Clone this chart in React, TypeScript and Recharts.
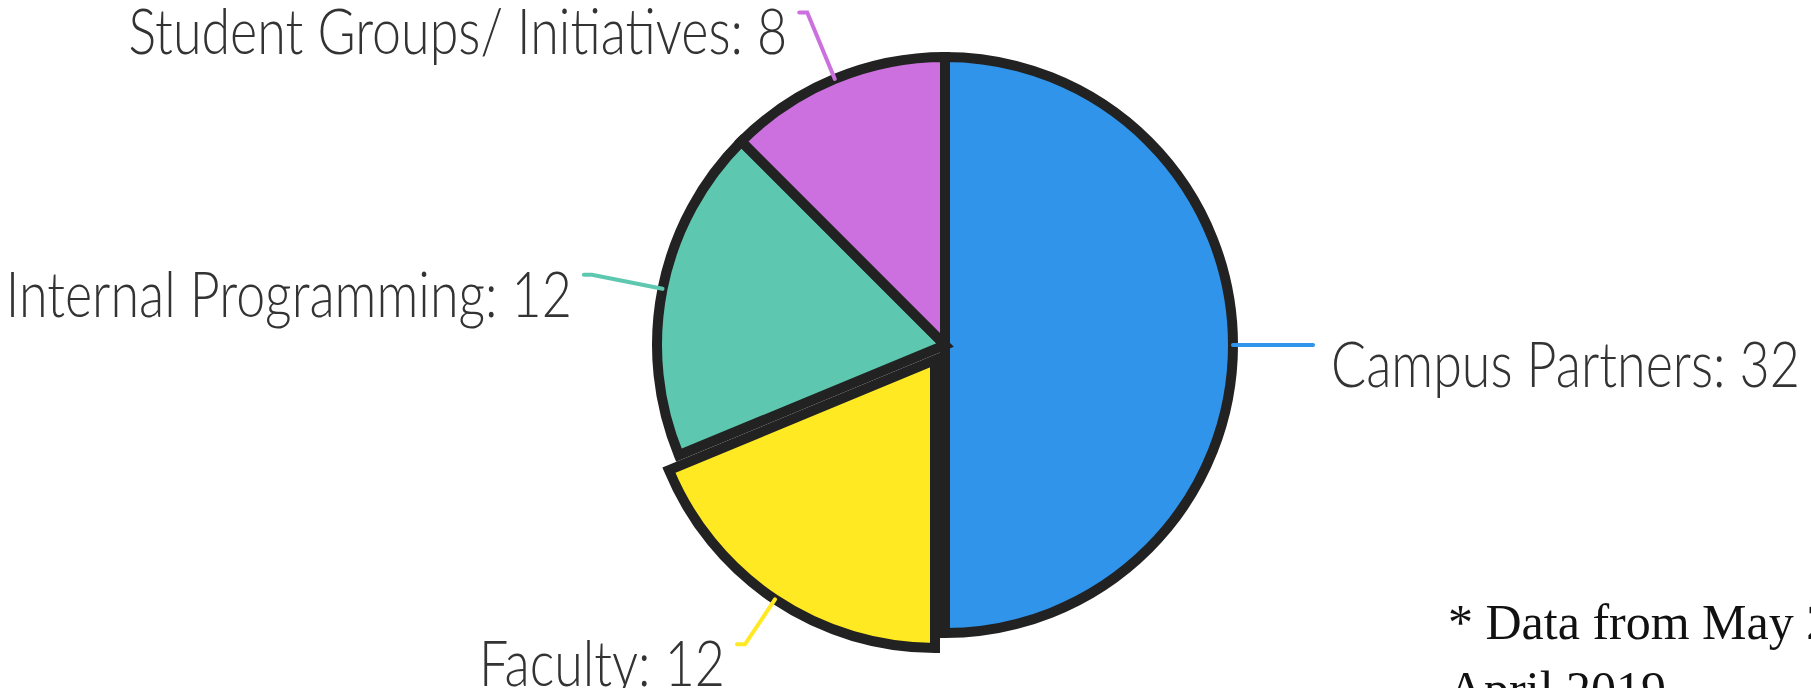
import { PieChart, Pie, Cell } from 'recharts'

// share of events by partner type
const categories = ['Campus Partners', 'Faculty', 'Internal Programming', 'Student Groups/ Initiatives']
const counts = [32, 12, 12, 8]
const sliceColors = ['#3094EA', '#FEE923', '#5DC8AF', '#CC70DF']
const explodedName = 'Faculty'
const footnoteLines = ['* Data from May 2018 \u2013', 'April 2019']

const RADIAN = Math.PI / 180
const CX = 945
const CY = 345
const R = 288
const EXPLODE = 18
const LABEL_FONT = 52
const STRETCH = 1.2 // the original face is taller than Lato

const data = categories.map((name, i) => ({ name, value: counts[i] }))

// offset of the pulled-out slice, along its mid angle
const total = counts.reduce((a, b) => a + b, 0)
const expIdx = categories.indexOf(explodedName)
const before = counts.slice(0, expIdx).reduce((a, b) => a + b, 0)
const expMid = 90 - (360 * (before + counts[expIdx] / 2)) / total
const offX = EXPLODE * Math.cos(-expMid * RADIAN)
const offY = EXPLODE * Math.sin(-expMid * RADIAN)

function renderLabel(props: any) {
  const { cx, cy, midAngle, outerRadius, index, name, value } = props
  const cos = Math.cos(-midAngle * RADIAN)
  const sin = Math.sin(-midAngle * RADIAN)
  const shift = index === expIdx ? [offX, offY] : [0, 0]
  const sx = cx + outerRadius * cos + shift[0]
  const sy = cy + outerRadius * sin + shift[1]
  const ex = cx + (outerRadius + 72) * cos
  const ey = cy + (outerRadius + 72) * sin
  const right = cos >= 0
  const hx = ex + (right ? 8 : -8)
  const tx = right ? hx + 18 : hx - 12
  const ty = ey - 3 + LABEL_FONT * 0.72 * STRETCH
  return (
    <g>
      <path
        d={`M${sx},${sy} L${ex},${ey} Q${ex + (right ? 2 : -2)},${ey} ${hx},${ey}`}
        stroke={sliceColors[index]}
        strokeWidth={4}
        fill="none"
        strokeLinecap="round"
      />
      <text
        x={0}
        y={0}
        transform={`translate(${tx},${ty}) scale(1,${STRETCH})`}
        textAnchor={right ? 'start' : 'end'}
        fill="#333"
        style={{ fontFamily: 'Lato', fontWeight: 300, fontSize: LABEL_FONT }}
      >
        {`${name}: ${value}`}
      </text>
    </g>
  )
}

export default function App() {
  return (
    <div style={{ position: 'absolute', left: 0, top: 0, width: 1811, height: 688, overflow: 'hidden', background: '#fff' }}>
      <PieChart width={1811} height={688} margin={{ top: 0, right: 0, bottom: 0, left: 0 }}>
        <Pie
          data={data}
          dataKey="value"
          nameKey="name"
          cx={CX}
          cy={CY}
          outerRadius={R}
          startAngle={90}
          endAngle={-270}
          stroke="#222"
          strokeWidth={10}
          label={renderLabel}
          labelLine={false}
          isAnimationActive={false}
        >
          {data.map((d, i) => (
            <Cell
              key={d.name}
              fill={i === expIdx ? 'transparent' : sliceColors[i]}
              stroke={i === expIdx ? 'none' : '#222'}
            />
          ))}
        </Pie>
        <Pie
          data={data}
          dataKey="value"
          nameKey="name"
          cx={CX + offX}
          cy={CY + offY}
          outerRadius={R}
          startAngle={90}
          endAngle={-270}
          strokeWidth={10}
          isAnimationActive={false}
        >
          {data.map((d, i) => (
            <Cell
              key={d.name}
              fill={i === expIdx ? sliceColors[i] : 'transparent'}
              stroke={i === expIdx ? '#222' : 'none'}
            />
          ))}
        </Pie>
      </PieChart>
      <svg width={1811} height={688} style={{ position: 'absolute', left: 0, top: 0, pointerEvents: 'none' }}>
        {footnoteLines.map((line, i) => (
          <text
            key={line}
            x={1448}
            y={639 + i * 67}
            fill="#111"
            style={{ fontFamily: '"Liberation Serif"', fontSize: 50 }}
          >
            {line}
          </text>
        ))}
      </svg>
    </div>
  )
}
